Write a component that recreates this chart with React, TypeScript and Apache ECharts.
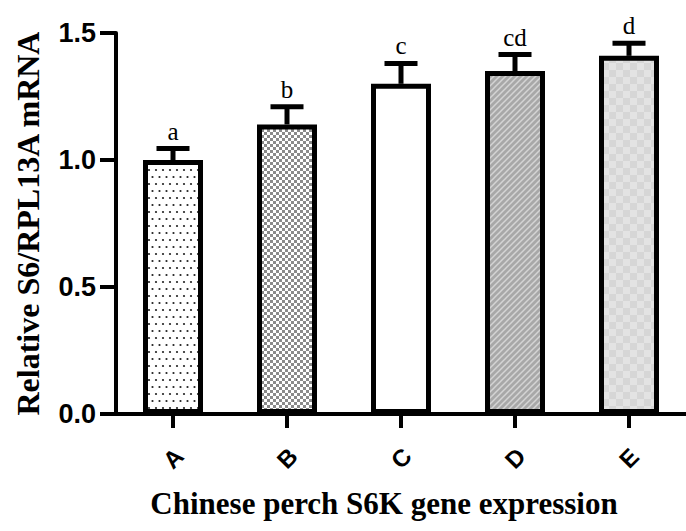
import React, { useEffect, useRef } from "react";
import * as echarts from "echarts";

const categories = ["A", "B", "C", "D", "E"];
const means = [1.0, 1.14, 1.3, 1.35, 1.41];
const sems = [0.045, 0.07, 0.08, 0.065, 0.05];
const letters = ["a", "b", "c", "cd", "d"];
const yTicks = [0, 0.5, 1.0, 1.5];

function makePattern(w: number, h: number, draw: (ctx: CanvasRenderingContext2D) => void) {
  const c = document.createElement("canvas");
  c.width = w;
  c.height = h;
  const ctx = c.getContext("2d") as CanvasRenderingContext2D;
  draw(ctx);
  return { image: c, repeat: "repeat", imageWidth: w, imageHeight: h } as any;
}

function buildPatterns() {
  const dots = makePattern(14, 14, (ctx) => {
    ctx.fillStyle = "#ffffff";
    ctx.fillRect(0, 0, 14, 14);
    ctx.fillStyle = "#222222";
    const pts = [
      [2, 2],
      [9, 2],
      [5.5, 9],
      [12.5, 9],
    ];
    pts.forEach(([x, y]) => {
      ctx.beginPath();
      ctx.arc(x, y, 1.1, 0, Math.PI * 2);
      ctx.fill();
    });
  });
  const checker = makePattern(6, 6, (ctx) => {
    ctx.fillStyle = "#ffffff";
    ctx.fillRect(0, 0, 6, 6);
    ctx.fillStyle = "#8a8a8a";
    ctx.fillRect(0, 0, 3, 3);
    ctx.fillRect(3, 3, 3, 3);
  });
  const stripes = makePattern(6, 6, (ctx) => {
    ctx.fillStyle = "#a8a8a8";
    ctx.fillRect(0, 0, 6, 6);
    ctx.strokeStyle = "#d4d4d4";
    ctx.lineWidth = 1.5;
    ctx.beginPath();
    ctx.moveTo(-1, 7);
    ctx.lineTo(7, -1);
    ctx.moveTo(-1, 1);
    ctx.lineTo(1, -1);
    ctx.moveTo(5, 7);
    ctx.lineTo(7, 5);
    ctx.stroke();
  });
  const bigChecker = makePattern(14, 14, (ctx) => {
    ctx.fillStyle = "#d6d6d6";
    ctx.fillRect(0, 0, 14, 14);
    ctx.fillStyle = "#e3e3e3";
    ctx.fillRect(0, 0, 7, 7);
    ctx.fillRect(7, 7, 7, 7);
  });
  return [dots, checker, "#ffffff", stripes, bigChecker];
}

export default function App() {
  const ref = useRef<HTMLDivElement>(null);

  useEffect(() => {
    if (!ref.current) return;
    const chart = echarts.init(ref.current, null, { renderer: "svg" });
    const fills = buildPatterns();

    const option: any = {
      animation: false,
      backgroundColor: "#ffffff",
      grid: { left: 116, top: 33, width: 576, height: 381, containLabel: false },
      xAxis: {
        type: "category",
        data: categories,
        name: "Chinese perch S6K gene expression",
        nameLocation: "middle",
        nameGap: 74,
        nameTextStyle: {
          fontFamily: "Liberation Serif",
          fontWeight: "bold",
          fontSize: 31,
          color: "#000",
          padding: [0, 34, 0, 0],
        },
        axisLine: { show: true, lineStyle: { color: "#000", width: 4 } },
        axisTick: { show: true, alignWithLabel: true, length: 14, lineStyle: { color: "#000", width: 4 } },
        axisLabel: {
          rotate: 45,
          align: "center",
          verticalAlign: "middle",
          margin: 44,
          fontFamily: "Liberation Sans",
          fontWeight: "bold",
          fontSize: 24,
          color: "#000",
        },
        splitLine: { show: false },
      },
      yAxis: {
        type: "value",
        min: 0,
        max: 1.5,
        interval: 0.5,
        name: "Relative S6/RPL13A mRNA",
        nameLocation: "middle",
        nameGap: 72,
        nameTextStyle: {
          fontFamily: "Liberation Serif",
          fontWeight: "bold",
          fontSize: 32,
          color: "#000",
        },
        axisLine: { show: true, lineStyle: { color: "#000", width: 4 } },
        axisTick: { show: true, length: 16, lineStyle: { color: "#000", width: 4 } },
        axisLabel: {
          margin: 20,
          formatter: (v: number) => (yTicks.includes(v) ? v.toFixed(1) : ""),
          fontFamily: "Liberation Sans",
          fontWeight: "bold",
          fontSize: 27,
          color: "#000",
        },
        splitLine: { show: false },
      },
      series: [
        {
          type: "bar",
          barWidth: 60,
          data: means.map((m, i) => ({
            value: m,
            itemStyle: { color: fills[i], borderColor: "#000", borderWidth: 5 },
          })),
          z: 2,
        },
        {
          type: "custom",
          z: 3,
          data: categories.map((c, i) => [i, means[i], sems[i]]),
          encode: { x: 0, y: 1 },
          renderItem: (params: any, api: any) => {
            const i = params.dataIndex;
            const x = api.coord([i, 0])[0];
            const yMean = api.coord([i, means[i]])[1];
            const yTop = api.coord([i, means[i] + sems[i]])[1];
            return {
              type: "group",
              children: [
                {
                  type: "line",
                  shape: { x1: x, y1: yMean, x2: x, y2: yTop },
                  style: { stroke: "#000", lineWidth: 5 },
                },
                {
                  type: "line",
                  shape: { x1: x - 16.5, y1: yTop, x2: x + 16.5, y2: yTop },
                  style: { stroke: "#000", lineWidth: 5 },
                },
                {
                  type: "text",
                  x: x,
                  y: yTop - 5,
                  style: {
                    text: letters[i],
                    align: "center",
                    verticalAlign: "bottom",
                    fontFamily: "Liberation Serif",
                    fontSize: 25,
                    fill: "#000",
                  },
                },
              ],
            };
          },
        },
      ],
    };
    chart.setOption(option);
    return () => chart.dispose();
  }, []);

  return <div ref={ref} style={{ width: 686, height: 531, position: "absolute", left: 0, top: 0 }} />;
}
